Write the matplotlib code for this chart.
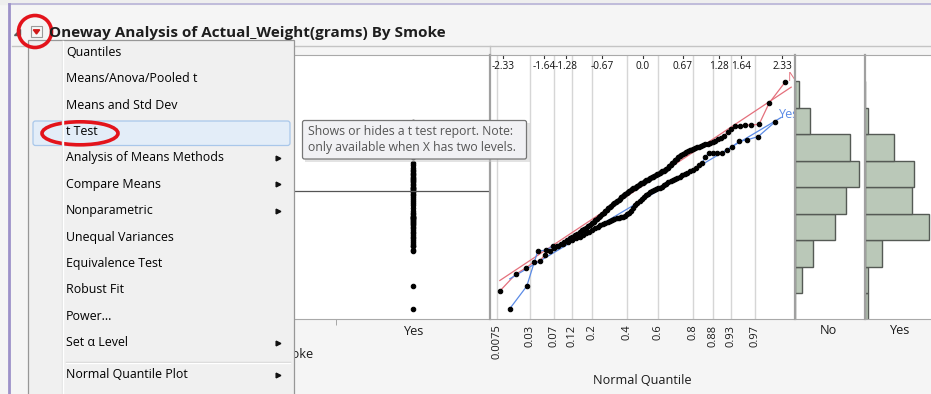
import matplotlib.pyplot as plt
import numpy as np
from matplotlib.patches import Rectangle, Ellipse, Polygon, FancyBboxPatch
from statistics import NormalDist

W, H = 931, 394

no_weights = [1043, 1364, 1480,
              1588, 1610, 1729, 1800, 1850, 1885, 1928, 1970,
              2010, 2040, 2070, 2100, 2125, 2150, 2187, 2210, 2240, 2270, 2296, 2325,
              2350, 2381, 2410, 2438, 2466, 2495,
              2523, 2550, 2580, 2605, 2630, 2655, 2680, 2700, 2722, 2745, 2769, 2790,
              2810, 2835, 2855, 2877, 2900, 2920, 2940, 2955, 2970, 2985, 2995,
              3010, 3025, 3040, 3062, 3075, 3090, 3104, 3120, 3132, 3147, 3160, 3175,
              3190, 3203, 3218, 3232, 3246, 3260, 3274, 3290, 3303, 3317, 3331, 3350,
              3374, 3400, 3430, 3459, 3487,
              3515, 3544, 3572, 3600, 3614, 3629, 3651, 3670, 3685, 3699, 3715, 3728,
              3742, 3756, 3770, 3785, 3799, 3813, 3827, 3842, 3856, 3884, 3912, 3940, 3969,
              4054, 4111, 4153, 4167, 4174, 4180, 4190,
              4593, 4990]
yes_weights = [709, 1135,
               1790, 1818, 1885, 1899, 1928, 1970,
               2010, 2040, 2070, 2100, 2130, 2160, 2190, 2225, 2250, 2282, 2301, 2325,
               2350, 2367, 2381, 2400, 2414, 2424, 2438, 2450, 2466, 2495,
               2523, 2560, 2610, 2660, 2700, 2740, 2780, 2820, 2850, 2880, 2905, 2930,
               2950, 2965, 2980, 2995,
               3010, 3040, 3070, 3095, 3115, 3140, 3160, 3180, 3203, 3225, 3250, 3274,
               3303, 3331, 3374, 3416, 3459,
               3580, 3651, 3651, 3651, 3651, 3700, 3770, 3870, 3900, 3960,
               4240]
groups = ["No", "Yes"]
bin_edges = [500, 1000, 1500, 2000, 2500, 3000, 3500, 4000, 4500, 5000]
top_ticks = [-2.33, -1.64, -1.28, -0.67, 0.0, 0.67, 1.28, 1.64, 2.33]
top_labels = ["-2.33", "-1.64", "-1.28", "-0.67", "0.0", "0.67", "1.28", "1.64", "2.33"]
prob_ticks = [0.0075, 0.03, 0.07, 0.12, 0.2, 0.4, 0.6, 0.8, 0.88, 0.93, 0.97]
prob_labels = ["0.0075", "0.03", "0.07", "0.12", "0.2", "0.4", "0.6", "0.8", "0.88", "0.93", "0.97"]

menu_items = ["Quantiles", "Means/Anova/Pooled t", "Means and Std Dev", "t Test",
              "Analysis of Means Methods", "Compare Means", "Nonparametric",
              "Unequal Variances", "Equivalence Test", "Robust Fit", "Power...",
              "Set \u03b1 Level", "Normal Quantile Plot"]
has_submenu = [False, False, False, False, True, True, True, False, False, False, False, True, True]
title = "Oneway Analysis of Actual_Weight(grams) By Smoke"
tooltip = "Shows or hides a t test report. Note:\nonly available when X has two levels."

plt.rcParams["font.family"] = ["Open Sans", "DejaVu Sans"]

RED_LINE = "#e4707c"
BLUE_LINE = "#5b8be6"
BAR = "#bac8b8"
GRID = "#d6d6d6"
FRAME = "#a9a9a9"
DOT = dict(color="black", ms=3.2, mew=0.8)


def px_rect(x0, y0, x1, y1):
    return [x0 / W, 1 - y1 / H, (x1 - x0) / W, (y1 - y0) / H]


def overlay(z):
    ax = fig.add_axes([0, 0, 1, 1], zorder=z)
    ax.set_xlim(0, W)
    ax.set_ylim(H, 0)
    ax.axis("off")
    ax.patch.set_alpha(0)
    return ax


fig = plt.figure(figsize=(W / 100, H / 100), dpi=100, facecolor="#f5f5f5")

# window chrome behind everything
chrome = overlay(0)
chrome.add_patch(Rectangle((0, 0), W, 4, color="#eeeeee", zorder=1))
chrome.plot([9, W], [4, 4], color="#b7b3d6", lw=1.2, zorder=2)
chrome.plot([9, 9], [4, H], color="#9d92c9", lw=2, zorder=2)
chrome.plot([12, W], [45.5, 45.5], color="#c4c4c4", lw=1, zorder=2)
chrome.plot([490, 490], [45.5, 55], color="#c4c4c4", lw=1, zorder=2)
chrome.text(642, 381, "Normal Quantile", fontsize=9.1, ha="center", va="center", color="#1a1a1a")
chrome.text(828, 330, "No", fontsize=9.1, ha="center", va="center", color="#1a1a1a")
chrome.text(899, 330, "Yes", fontsize=9.1, ha="center", va="center", color="#1a1a1a")
chrome.text(313, 354, "Smoke", fontsize=9.1, ha="right", va="center", color="#1a1a1a")

ylim = (515, 5500)
no_arr = np.array(no_weights)
yes_arr = np.array(yes_weights)

# oneway scatter (mostly hidden by the menu)
oa = fig.add_axes(px_rect(181, 55, 490, 319), zorder=1)
oa.set_xlim(-0.5, 1.5)
oa.set_ylim(*ylim)
oa.plot(np.zeros(len(no_arr)), no_arr, "o", **DOT)
oa.plot(np.ones(len(yes_arr)), yes_arr, "o", **DOT)
oa.axhline(np.concatenate([no_arr, yes_arr]).mean(), color="#555555", lw=0.9)
oa.set_xticks([0, 1], groups, fontsize=9.1, color="#1a1a1a")
oa.set_xticks([0.5], minor=True)
oa.tick_params(axis="x", which="major", length=0, pad=4)
oa.tick_params(axis="x", which="minor", length=4, color="#999999")
oa.set_yticks([])
for s in ["left", "right"]:
    oa.spines[s].set_visible(False)
oa.spines["top"].set_color(FRAME)
oa.spines["bottom"].set_color(FRAME)

# normal quantile plot
nd = NormalDist()
qa = fig.add_axes(px_rect(490, 55, 794, 319), zorder=2)
qa.set_xlim(-2.546, 2.529)
qa.set_ylim(*ylim)
prob_z = [nd.inv_cdf(p) for p in prob_ticks]
qa.set_xticks(prob_z, prob_labels, rotation=90, fontsize=8.0, color="#1a1a1a")
qa.tick_params(axis="x", length=0, pad=4)
qa.set_yticks([])
qa.grid(axis="x", color=GRID, lw=1)
qa.spines["left"].set_color("#a0a0a0")
qa.spines["left"].set_linewidth(1.6)
qa.spines["right"].set_visible(False)
qa.spines["top"].set_color(FRAME)
qa.spines["bottom"].set_color(FRAME)
tr = qa.get_xaxis_transform()
for t, lab in zip(top_ticks, top_labels):
    qa.plot([t, t], [1.0, 0.99], color="#333333", lw=0.8, transform=tr, clip_on=False)
    qa.text(t, 0.958, lab, fontsize=7.2, ha="center", va="center", transform=tr, color="#111111")

for arr, col, name in [(no_arr, RED_LINE, "No"), (yes_arr, BLUE_LINE, "Yes")]:
    n = len(arr)
    z = np.array([nd.inv_cdf(i / (n + 1)) for i in range(1, n + 1)])
    vals = np.sort(arr)
    m, sd = vals.mean(), vals.std(ddof=1)
    qa.plot([z[0], z[-1] + 0.1], [m + sd * z[0], m + sd * (z[-1] + 0.1)], color=col, lw=0.9, zorder=2)
    qa.plot(z, vals, color=col, lw=0.9, zorder=2)
    qa.plot(z, vals, "o", zorder=3, **DOT)
    qa.text(z[-1] + 0.04, m + sd * (z[-1] + 0.1) + 60, name, color=col, fontsize=9.1,
            ha="left", va="bottom" if name == "No" else "center", clip_on=False)

# histograms
for (x0, x1), arr in [((795, 865), no_arr), ((865, 931), yes_arr)]:
    ha = fig.add_axes(px_rect(x0, 55, x1, 319), zorder=3)
    counts, edges = np.histogram(arr, bins=bin_edges)
    ha.barh(edges[:-1], counts, height=np.diff(edges), align="edge",
            color=BAR, edgecolor="#555a55", lw=1)
    ha.set_xlim(0, counts.max() * (x1 - x0) / 64)
    ha.set_ylim(*ylim)
    ha.set_xticks([])
    ha.set_yticks([])
    ha.spines["left"].set_color("#a0a0a0")
    ha.spines["left"].set_linewidth(1.6)
    ha.spines["right"].set_visible(False)
    ha.spines["top"].set_color(FRAME)
    ha.spines["bottom"].set_color(FRAME)

# title bar and popup menu
top = overlay(10)
top.add_patch(Polygon([(14, 35), (20, 35), (20, 29)], closed=True, color="#595959"))
top.add_patch(Rectangle((31, 26), 11, 11, facecolor="#f7f7f7", edgecolor="#9a9a9a", lw=0.8))
top.add_patch(Polygon([(33.3, 29.8), (39.7, 29.8), (36.5, 34)], closed=True, color="#d11a1a"))
top.text(49, 33, title, fontsize=11.0, fontweight="bold", ha="left", va="center", color="#1e1e1e")

top.add_patch(Rectangle((28, 40), 266, 360, facecolor="#f0f0f0", edgecolor="#979797", lw=0.9))
top.plot([62, 62], [41, H], color="#e2e3e3", lw=1)
top.plot([63, 63], [41, H], color="#ffffff", lw=1)
top.add_patch(FancyBboxPatch((33, 121), 257, 24.5, boxstyle="round,pad=0,rounding_size=2.5",
                             facecolor="#e3edf8", edgecolor="#a9c7ea", lw=0.9))
for k, (item, sub) in enumerate(zip(menu_items, has_submenu)):
    y = 52.3 + 26.4 * k + (5.6 if k == 12 else 0)
    top.text(66, y, item, fontsize=8.9, ha="left", va="center", color="#000000")
    if sub:
        top.plot(278, y, marker=">", color="#111111", ms=3.4)
top.plot([66, 290], [361.5, 361.5], color="#d5d5d5", lw=1)
top.plot([66, 290], [362.5, 362.5], color="#ffffff", lw=1)

# tooltip
top.add_patch(Rectangle((305, 123), 225, 39, facecolor="#c8c8c8", alpha=0.5, lw=0))
top.add_patch(FancyBboxPatch((302.5, 120.5), 224, 38.5, boxstyle="round,pad=0,rounding_size=2",
                             facecolor="#f1f1f4", edgecolor="#767676", lw=0.9))
top.text(308, 139.5, tooltip, fontsize=8.8, ha="left", va="center", color="#555555", linespacing=1.3)

# red annotation rings
top.add_patch(Ellipse((35, 31.5), 33, 32, fill=False, edgecolor="#e3131b", lw=2.6))
top.add_patch(Ellipse((80, 133.3), 76, 23, fill=False, edgecolor="#e3131b", lw=2.6))

fig.savefig("out.png", dpi=100, facecolor=fig.get_facecolor())
